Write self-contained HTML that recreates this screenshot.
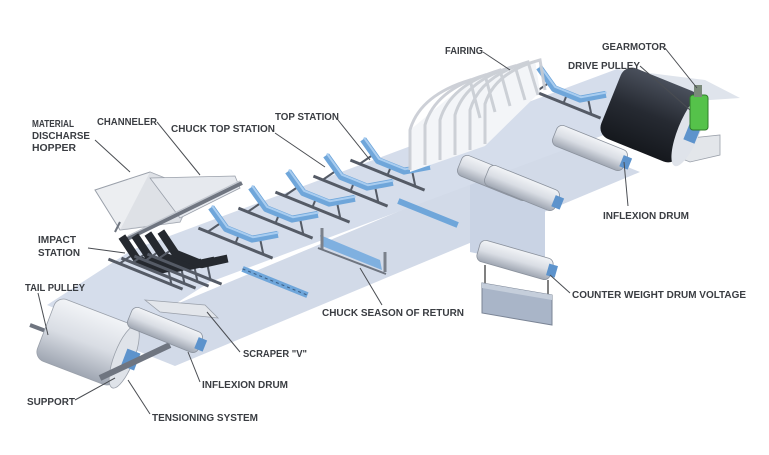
<!DOCTYPE html>
<html><head><meta charset="utf-8"><style>
html,body{margin:0;padding:0;background:#fff;}
svg{display:block}
text{font-family:"Liberation Sans",sans-serif;font-weight:bold;font-size:10.5px;fill:#3a3d42;}
.l{stroke:#4a4d52;stroke-width:1;fill:none}
</style></head><body>
<svg width="769" height="455" viewBox="0 0 769 455" xmlns="http://www.w3.org/2000/svg">
<defs>
<linearGradient id="drum" x1="0" y1="0" x2="0" y2="1">
<stop offset="0" stop-color="#f2f4f7"/><stop offset="0.5" stop-color="#d9dde4"/><stop offset="1" stop-color="#9fa6b2"/></linearGradient>
<linearGradient id="dark" x1="0" y1="0" x2="0" y2="1">
<stop offset="0" stop-color="#4a505c"/><stop offset="0.5" stop-color="#262a32"/><stop offset="1" stop-color="#15181d"/></linearGradient>
<g id="idler">
<line x1="-40" y1="12" x2="40" y2="12" stroke="#555b66" stroke-width="3"/>
<line x1="-30" y1="12" x2="-22" y2="0" stroke="#555b66" stroke-width="2"/>
<line x1="30" y1="12" x2="22" y2="0" stroke="#555b66" stroke-width="2"/>
<line x1="0" y1="12" x2="0" y2="3" stroke="#555b66" stroke-width="2"/>
<polyline points="-36,-12 -14,2 14,2 36,-12" fill="none" stroke="#6fa6da" stroke-width="7" stroke-linejoin="round"/>
<polyline points="-36,-14 -14,0 14,0 36,-14" fill="none" stroke="#a9cdf0" stroke-width="2"/>
</g>
<g id="impact">
<line x1="-40" y1="12" x2="40" y2="12" stroke="#555b66" stroke-width="3"/>
<line x1="-28" y1="12" x2="-20" y2="0" stroke="#555b66" stroke-width="2"/>
<line x1="28" y1="12" x2="20" y2="0" stroke="#555b66" stroke-width="2"/>
<polyline points="-36,-14 -14,1 14,1 36,-14" fill="none" stroke="#25292f" stroke-width="8" stroke-linejoin="round"/>
</g>
<g id="rdrum">
<rect x="-38" y="-11" width="76" height="22" rx="6" fill="url(#drum)" stroke="#8a919c" stroke-width="0.8"/>
<rect x="34" y="-6" width="9" height="12" fill="#5d93cc"/>
</g>
</defs>
<rect width="769" height="455" fill="#fff"/>

<!-- return belt -->
<polygon points="100,336 175,366 640,172 565,142" fill="#d2dae8"/>
<polygon points="470,178 545,195 545,268 470,252" fill="#c9d3e4"/>
<!-- upper belt -->
<polygon points="47,305 123,337 210,282 695,101 617,69 132,250" fill="#d5ddeb"/>
<polygon points="617,69 695,101 740,98 705,80" fill="#dfe4ec"/>

<!-- hopper & channeler -->
<polygon points="95,190 150,172 195,190 180,222 120,230" fill="#eceef1" stroke="#9aa0aa" stroke-width="1"/>
<polygon points="120,230 180,222 195,190 150,172" fill="#d5d9df" opacity="0.6"/>
<line x1="115" y1="232" x2="120" y2="222" stroke="#6f7580" stroke-width="2"/>
<polygon points="150,178 235,176 240,188 180,218" fill="#e6e9ee" stroke="#9aa0aa" stroke-width="0.8"/>
<line x1="125" y1="240" x2="242" y2="183" stroke="#6f7580" stroke-width="4"/>
<line x1="128" y1="236" x2="240" y2="181" stroke="#c2c7cf" stroke-width="1.5"/>

<!-- impact stations -->
<g transform="translate(150,263) rotate(22)"><use href="#impact"/></g>
<g transform="translate(163,262) rotate(22)"><use href="#impact"/></g>
<g transform="translate(176,260) rotate(22)"><use href="#impact"/></g>
<g transform="translate(189,258) rotate(22)"><use href="#impact"/></g>

<!-- carrying idlers -->
<g transform="translate(240,232) rotate(22)"><use href="#idler"/></g>
<g transform="translate(280,212) rotate(22)"><use href="#idler"/></g>
<g transform="translate(317,196) rotate(22)"><use href="#idler"/></g>
<g transform="translate(355,180) rotate(22)"><use href="#idler"/></g>
<g transform="translate(392,164) rotate(22)"><use href="#idler"/></g>
<g transform="translate(568,92) rotate(22)"><use href="#idler"/></g>

<!-- fairing -->
<polygon points="410,172 485,146 540,92 535,60 470,80 410,130" fill="#f3f5f8"/>
<g fill="none" stroke="#c8ccd3" stroke-width="3" opacity="0.9">
<path d="M410,170 L410,130 Q420,95 470,80 L480,118"/>
<path d="M425,165 L425,125 Q435,90 485,75 L495,112"/>
<path d="M440,160 L440,120 Q450,85 500,70 L510,106"/>
<path d="M455,155 L455,115 Q465,80 515,66 L525,100"/>
<path d="M470,150 L470,110 Q480,76 528,62 L538,95"/>
<path d="M485,144 L485,104 Q495,72 540,60 L545,90"/>
</g>

<!-- return idlers -->
<g transform="translate(275,282) rotate(22)"><line x1="-35" y1="0" x2="35" y2="0" stroke="#6fa6da" stroke-width="6"/><line x1="-35" y1="0" x2="35" y2="0" stroke="#3d5f85" stroke-width="1" stroke-dasharray="3,3"/></g>
<g transform="translate(428,213) rotate(22)"><line x1="-32" y1="0" x2="32" y2="0" stroke="#6fa6da" stroke-width="6"/></g>
<!-- chuck season of return -->
<polygon points="320,235 380,260 382,270 322,246" fill="#7fb0e0"/>
<line x1="322" y1="228" x2="322" y2="250" stroke="#7b818b" stroke-width="3"/>
<line x1="385" y1="252" x2="385" y2="272" stroke="#7b818b" stroke-width="3"/>
<line x1="318" y1="248" x2="386" y2="274" stroke="#6f7580" stroke-width="2"/>

<!-- scraper V -->
<polygon points="145,300 205,305 218,318 160,312" fill="#e3e6eb" stroke="#9aa0aa" stroke-width="0.8"/>

<!-- tail pulley -->
<line x1="30" y1="325" x2="130" y2="363" stroke="#6f7580" stroke-width="4"/>
<g transform="translate(85,342) rotate(21)">
<rect x="-42" y="-33" width="84" height="66" rx="10" fill="url(#drum)" stroke="#9aa0aa" stroke-width="0.8"/>
<ellipse cx="42" cy="0" rx="10" ry="33" fill="#dfe3e9" stroke="#9aa0aa" stroke-width="0.8"/>
<rect x="42" y="-9" width="14" height="18" fill="#5d93cc"/>
</g>
<line x1="100" y1="378" x2="170" y2="345" stroke="#6f7580" stroke-width="6"/>
<!-- inflexion drum left -->
<g transform="translate(165,330) rotate(22)"><use href="#rdrum"/></g>

<!-- bend drums -->
<g transform="translate(495,178) rotate(22)"><use href="#rdrum"/></g>
<g transform="translate(522,188) rotate(22)"><use href="#rdrum"/></g>
<g transform="translate(590,148) rotate(22)"><use href="#rdrum"/></g>
<line x1="605" y1="132" x2="665" y2="155" stroke="#8a919c" stroke-width="4"/>

<!-- counterweight -->
<g transform="translate(515,260) rotate(16)"><use href="#rdrum"/></g>
<line x1="485" y1="265" x2="485" y2="290" stroke="#555" stroke-width="1.5"/>
<line x1="548" y1="280" x2="548" y2="310" stroke="#555" stroke-width="1.5"/>
<polygon points="482,283 552,295 552,325 482,313" fill="#a9b5c8" stroke="#7a8495" stroke-width="1"/>
<polygon points="482,283 552,295 552,300 482,288" fill="#c5cedb"/>

<!-- drive pulley -->
<polygon points="672,140 720,135 720,155 690,162 672,155" fill="#e3e6ea" stroke="#9aa0aa" stroke-width="0.8"/>
<g transform="translate(650,115) rotate(22)">
<rect x="-42" y="-38" width="84" height="76" rx="12" fill="url(#dark)"/>
<ellipse cx="42" cy="0" rx="11" ry="38" fill="#dfe3ea"/>
<rect x="40" y="-10" width="12" height="20" fill="#5d93cc"/>
</g>
<rect x="690" y="95" width="18" height="35" rx="3" fill="#55c24a" stroke="#2f7d2a" stroke-width="1"/>
<rect x="694" y="85" width="8" height="12" fill="#7a8a7a"/>

<!-- leader lines -->
<line class="l" x1="95" y1="140" x2="130" y2="172"/>
<line class="l" x1="157" y1="122" x2="200" y2="175"/>
<line class="l" x1="275" y1="133" x2="325" y2="167"/>
<line class="l" x1="338" y1="120" x2="370" y2="160"/>
<line class="l" x1="88" y1="248" x2="125" y2="253"/>
<line class="l" x1="38" y1="293" x2="48" y2="335"/>
<line class="l" x1="240" y1="352" x2="207" y2="312"/>
<line class="l" x1="200" y1="382" x2="188" y2="352"/>
<line class="l" x1="75" y1="400" x2="115" y2="378"/>
<line class="l" x1="150" y1="414" x2="128" y2="380"/>
<line class="l" x1="382" y1="305" x2="360" y2="268"/>
<line class="l" x1="483" y1="52" x2="510" y2="70"/>
<line class="l" x1="665" y1="48" x2="697" y2="88"/>
<line class="l" x1="640" y1="66" x2="690" y2="110"/>
<line class="l" x1="628" y1="206" x2="624" y2="162"/>
<line class="l" x1="570" y1="293" x2="550" y2="275"/>

<!-- labels -->
<text x="32" y="127" textLength="42" lengthAdjust="spacingAndGlyphs">MATERIAL</text>
<text x="32" y="139" textLength="58" lengthAdjust="spacingAndGlyphs">DISCHARSE</text>
<text x="32" y="151" textLength="44" lengthAdjust="spacingAndGlyphs">HOPPER</text>
<text x="97" y="125" textLength="60" lengthAdjust="spacingAndGlyphs">CHANNELER</text>
<text x="171" y="132" textLength="104" lengthAdjust="spacingAndGlyphs">CHUCK TOP STATION</text>
<text x="275" y="120" textLength="64" lengthAdjust="spacingAndGlyphs">TOP STATION</text>
<text x="38" y="243" textLength="38" lengthAdjust="spacingAndGlyphs">IMPACT</text>
<text x="38" y="256" textLength="42" lengthAdjust="spacingAndGlyphs">STATION</text>
<text x="25" y="291" textLength="60" lengthAdjust="spacingAndGlyphs">TAIL PULLEY</text>
<text x="243" y="357" textLength="64" lengthAdjust="spacingAndGlyphs">SCRAPER "V"</text>
<text x="202" y="388" textLength="86" lengthAdjust="spacingAndGlyphs">INFLEXION DRUM</text>
<text x="27" y="405" textLength="48" lengthAdjust="spacingAndGlyphs">SUPPORT</text>
<text x="152" y="421" textLength="106" lengthAdjust="spacingAndGlyphs">TENSIONING SYSTEM</text>
<text x="322" y="316" textLength="142" lengthAdjust="spacingAndGlyphs">CHUCK SEASON OF RETURN</text>
<text x="445" y="54" textLength="38" lengthAdjust="spacingAndGlyphs">FAIRING</text>
<text x="602" y="50" textLength="64" lengthAdjust="spacingAndGlyphs">GEARMOTOR</text>
<text x="568" y="69" textLength="72" lengthAdjust="spacingAndGlyphs">DRIVE PULLEY</text>
<text x="603" y="219" textLength="86" lengthAdjust="spacingAndGlyphs">INFLEXION DRUM</text>
<text x="572" y="298" textLength="174" lengthAdjust="spacingAndGlyphs">COUNTER WEIGHT DRUM VOLTAGE</text>
</svg>
</body></html>
